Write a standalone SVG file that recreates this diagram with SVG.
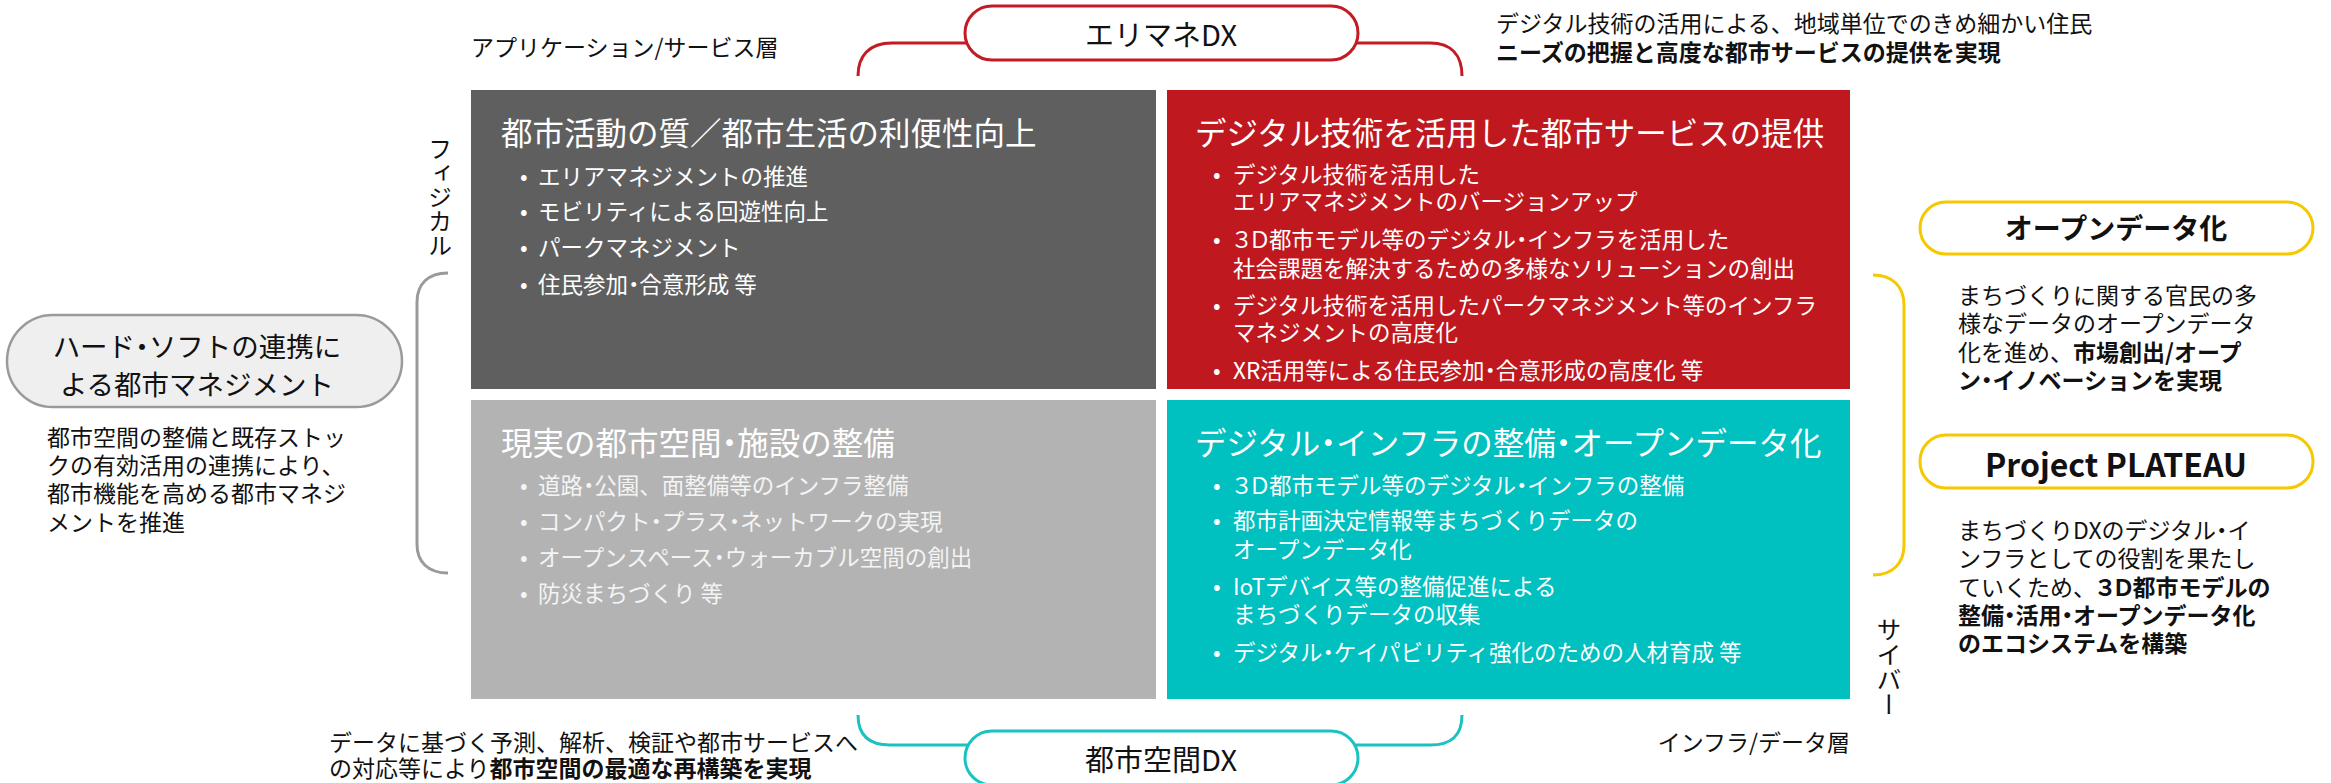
<svg xmlns="http://www.w3.org/2000/svg" width="2331" height="783" viewBox="0 0 2331 783">
<style>
text{font-family:"Noto Sans CJK JP","Noto Sans CJK SC",sans-serif;}
.p{font-feature-settings:"palt";}
.lbl{font-size:23px;fill:#111;}
.b{font-weight:bold;}
.title{font-size:31.5px;fill:#fff;}
.bul{font-size:22.5px;fill:#fff;}
.bul2{font-size:22.5px;fill:#f4f4f4;}
.pill{fill:#fff;stroke-width:3;}
.br{fill:none;stroke-width:3;}
</style>
<rect width="2331" height="783" fill="#fff"/>
<g id="connectors">
<path class="br" stroke="#c41a24" d="M858,76 C858,56 869,43 892,43 L985,43"/>
<path class="br" stroke="#c41a24" d="M1340,43 L1430,43 C1452,43 1462,56 1462,76"/>
<path class="br" stroke="#1cc2c2" d="M858,715 C858,735 869,745 890,745 L985,745"/>
<path class="br" stroke="#1cc2c2" d="M1340,745 L1430,745 C1452,745 1462,735 1462,715"/>
<path class="br" stroke="#9a9a9a" stroke-width="2.5" d="M448,273 C428,273 417,284 417,302 L417,544 C417,562 428,573 448,573"/>
<path class="br" stroke="#f5c800" d="M1873,275 C1893,275 1904,287 1904,305 L1904,545 C1904,563 1893,575 1873,575"/>
</g>
<g id="labels">
<text class="lbl" x="471" y="56">アプリケーション/サービス層</text>
<text class="lbl" x="1850" y="751" text-anchor="end">インフラ/データ層</text>
<text class="lbl" x="1496" y="32">デジタル技術の活用による、地域単位でのきめ細かい住民</text>
<text class="lbl b" x="1496" y="61">ニーズの把握と高度な都市サービスの提供を実現</text>
<text class="lbl" x="329" y="751">データに基づく予測、解析、検証や都市サービスへ</text>
<text class="lbl" x="329" y="777">の対応等により<tspan class="b">都市空間の最適な再構築を実現</tspan></text>
<text x="440" y="137" style="writing-mode:vertical-rl;font-size:24px;fill:#111;">フィジカル</text>
<text x="1889" y="617" style="writing-mode:vertical-rl;font-size:25px;fill:#111;">サイバー</text>
</g>
<g id="erimane-dx">
<rect class="pill" stroke="#c41a24" x="965" y="6" width="393" height="54" rx="27"/>
<text x="1161" y="46" text-anchor="middle" font-size="29" fill="#111">エリマネDX</text>
</g>
<g id="toshikukan-dx">
<rect class="pill" stroke="#1cc2c2" x="965" y="731" width="393" height="54" rx="27"/>
<text x="1161" y="771" text-anchor="middle" font-size="29" fill="#111">都市空間DX</text>
</g>
<g id="hard-soft">
<rect x="7" y="315" width="395" height="92" rx="46" fill="#efefef" stroke="#9a9a9a" stroke-width="2.5"/>
<text x="197" y="357" text-anchor="middle" font-size="27.5" fill="#111">ハード<tspan class="p">・</tspan>ソフトの連携に</text>
<text x="197" y="395" text-anchor="middle" font-size="27.5" fill="#111">よる都市マネジメント</text>
<text class="lbl" x="47" y="446">都市空間の整備と既存ストッ</text>
<text class="lbl" x="47" y="474">クの有効活用の連携により、</text>
<text class="lbl" x="47" y="502">都市機能を高める都市マネジ</text>
<text class="lbl" x="47" y="531">メントを推進</text>
</g>
<g id="box-quality">
<rect x="471" y="90" width="685" height="299" fill="#5f5f5f"/>
<text class="title" x="501" y="145">都市活動の質／都市生活の利便性向上</text>
<g class="bul">
<text x="520" y="185">•</text><text x="538" y="185">エリアマネジメントの推進</text>
<text x="520" y="220">•</text><text x="538" y="220">モビリティによる回遊性向上</text>
<text x="520" y="256">•</text><text x="538" y="256">パークマネジメント</text>
<text x="520" y="293">•</text><text x="538" y="293">住民参加<tspan class="p">・</tspan>合意形成 等</text>
</g>
</g>
<g id="box-digital-service">
<rect x="1167" y="90" width="683" height="299" fill="#c0181f"/>
<text class="title" x="1195" y="145">デジタル技術を活用した都市サービスの提供</text>
<g class="bul">
<text x="1213" y="183">•</text><text x="1233" y="183">デジタル技術を活用した</text>
<text x="1233" y="210">エリアマネジメントのバージョンアップ</text>
<text x="1213" y="248">•</text><text x="1233" y="248"><tspan class="p">３Ｄ</tspan>都市モデル等のデジタル<tspan class="p">・</tspan>インフラを活用した</text>
<text x="1233" y="277">社会課題を解決するための多様なソリューションの創出</text>
<text x="1213" y="314">•</text><text x="1233" y="314">デジタル技術を活用したパークマネジメント等のインフラ</text>
<text x="1233" y="341">マネジメントの高度化</text>
<text x="1213" y="379">•</text><text x="1233" y="379">XR活用等による住民参加<tspan class="p">・</tspan>合意形成の高度化 等</text>
</g>
</g>
<g id="box-physical-space">
<rect x="471" y="400" width="685" height="299" fill="#b3b3b3"/>
<text class="title" x="501" y="455">現実の都市空間<tspan class="p">・</tspan>施設の整備</text>
<g class="bul2">
<text x="520" y="494">•</text><text x="538" y="494">道路<tspan class="p">・</tspan>公園、面整備等のインフラ整備</text>
<text x="520" y="530">•</text><text x="538" y="530">コンパクト<tspan class="p">・</tspan>プラス<tspan class="p">・</tspan>ネットワークの実現</text>
<text x="520" y="566">•</text><text x="538" y="566">オープンスペース<tspan class="p">・</tspan>ウォーカブル空間の創出</text>
<text x="520" y="602">•</text><text x="538" y="602">防災まちづくり 等</text>
</g>
</g>
<g id="box-digital-infra">
<rect x="1167" y="400" width="683" height="299" fill="#00c0c0"/>
<text class="title" x="1195" y="455">デジタル<tspan class="p">・</tspan>インフラの整備<tspan class="p">・</tspan>オープンデータ化</text>
<g class="bul">
<text x="1213" y="494">•</text><text x="1233" y="494"><tspan class="p">３Ｄ</tspan>都市モデル等のデジタル<tspan class="p">・</tspan>インフラの整備</text>
<text x="1213" y="529">•</text><text x="1233" y="529">都市計画決定情報等まちづくりデータの</text>
<text x="1233" y="558">オープンデータ化</text>
<text x="1213" y="595">•</text><text x="1233" y="595">IoTデバイス等の整備促進による</text>
<text x="1233" y="623">まちづくりデータの収集</text>
<text x="1213" y="661">•</text><text x="1233" y="661">デジタル<tspan class="p">・</tspan>ケイパビリティ強化のための人材育成 等</text>
</g>
</g>
<g id="open-data">
<rect class="pill" stroke="#f5c800" stroke-width="3.5" x="1920" y="202" width="393" height="52" rx="26"/>
<text x="2116" y="239" text-anchor="middle" font-size="28" font-weight="bold" fill="#111">オープンデータ化</text>
<text class="lbl" x="1958" y="304">まちづくりに関する官民の多</text>
<text class="lbl" x="1958" y="332">様なデータのオープンデータ</text>
<text class="lbl" x="1958" y="361">化を進め、<tspan class="b">市場創出/オープ</tspan></text>
<text class="lbl b" x="1958" y="389">ン<tspan class="p">・</tspan>イノベーションを実現</text>
</g>
<g id="plateau">
<rect class="pill" stroke="#f5c800" stroke-width="3.5" x="1920" y="435" width="393" height="53" rx="26"/>
<text x="2116" y="477" text-anchor="middle" font-size="32" font-weight="bold" fill="#111">Project PLATEAU</text>
<text class="lbl" x="1958" y="539">まちづくりDXのデジタル<tspan class="p">・</tspan>イ</text>
<text class="lbl" x="1958" y="567">ンフラとしての役割を果たし</text>
<text class="lbl" x="1958" y="596">ていくため、<tspan class="b"><tspan class="p">３Ｄ</tspan>都市モデルの</tspan></text>
<text class="lbl b" x="1958" y="624">整備<tspan class="p">・</tspan>活用<tspan class="p">・</tspan>オープンデータ化</text>
<text class="lbl b" x="1958" y="652">のエコシステムを構築</text>
</g>
</svg>
